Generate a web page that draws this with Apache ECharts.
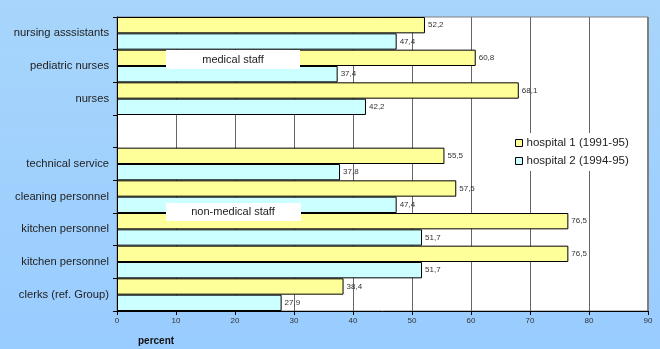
<!DOCTYPE html>
<html>
<head>
<meta charset="utf-8">
<script src="https://cdn.jsdelivr.net/npm/echarts@6/dist/echarts.min.js"></script>
<style>
  html, body { margin: 0; padding: 0; }
  #chart { width: 660px; height: 349px; }
</style>
</head>
<body>
<div id="chart"></div>
<script>
// Occupational groups, top to bottom; the empty entry separates the two staff blocks
const categories = [
  'nursing asssistants', 'pediatric nurses', 'nurses', '',
  'technical service', 'cleaning personnel', 'kitchen personnel',
  'kitchen personnel', 'clerks (ref. Group)'
];
const hospital1 = [52.2, 60.8, 68.1, null, 55.5, 57.5, 76.5, 76.5, 38.4];
const hospital2 = [47.4, 37.4, 42.2, null, 37.8, 47.4, 51.7, 51.7, 27.9];
const seriesNames = ['hospital 1 (1991-95)', 'hospital 2 (1994-95)'];
const xTicks = [0, 10, 20, 30, 40, 50, 60, 70, 80, 90];

const FONT = '"Liberation Sans", Arial, sans-serif';

const chart = echarts.init(document.getElementById('chart'), null, { renderer: 'canvas' });

const commaLabel = p => (p.value == null ? '' : String(p.value.toFixed(1)).replace('.', ','));

const barLabel = {
  show: true,
  position: 'right',
  distance: 3,
  fontFamily: FONT,
  fontSize: 8,
  color: '#333',
  formatter: commaLabel
};

chart.setOption({
  animation: false,
  backgroundColor: {
    type: 'linear', x: 0, y: 0, x2: 0, y2: 1,
    colorStops: [{ offset: 0, color: '#a7d5fb' }, { offset: 1, color: '#99ccff' }]
  },
  grid: {
    left: 117, right: 12, top: 17, bottom: 38,
    show: true, backgroundColor: '#ffffff', borderColor: '#808080', borderWidth: 1
  },
  legend: {
    orient: 'vertical',
    left: 510, top: 133,
    backgroundColor: '#ffffff',
    padding: [4, 6, 4, 5],
    itemWidth: 7, itemHeight: 7, itemGap: 6,
    icon: 'rect',
    itemStyle: { borderColor: '#000', borderWidth: 1 },
    textStyle: { fontFamily: FONT, fontSize: 11.5, color: '#222', padding: [0, 0, 0, -1] },
    data: seriesNames
  },
  xAxis: {
    type: 'value',
    min: xTicks[0], max: xTicks[xTicks.length - 1], interval: 10,
    axisLine: { show: true, lineStyle: { color: '#000', width: 1 } },
    axisTick: { show: true, length: 4, lineStyle: { color: '#000' } },
    axisLabel: { fontFamily: FONT, fontSize: 8, color: '#333', margin: 6 },
    splitLine: { show: true, lineStyle: { color: '#666', width: 1 } }
  },
  yAxis: {
    type: 'category',
    inverse: true,
    data: categories,
    axisLine: { show: true, lineStyle: { color: '#000', width: 1 } },
    axisTick: { show: true, length: 4, lineStyle: { color: '#000' } },
    axisLabel: { fontFamily: FONT, fontSize: 11.2, color: '#222', margin: 8 }
  },
  series: [
    {
      name: seriesNames[0], type: 'bar', data: hospital1,
      barGap: '0%', barCategoryGap: '0%',
      itemStyle: { color: '#ffff99', borderColor: '#000', borderWidth: 1 },
      label: barLabel
    },
    {
      name: seriesNames[1], type: 'bar', data: hospital2,
      barGap: '0%', barCategoryGap: '0%',
      itemStyle: { color: '#ccffff', borderColor: '#000', borderWidth: 1 },
      label: barLabel
    }
  ],
  graphic: [
    {
      type: 'group', left: 166, top: 50, z: 100,
      children: [
        { type: 'rect', z: 100, shape: { x: 0, y: 0, width: 134, height: 19 }, style: { fill: '#fff' } },
        { type: 'text', z: 101, x: 67, y: 10, style: { text: 'medical staff', fontFamily: FONT, fontSize: 11, fill: '#222', align: 'center', verticalAlign: 'middle' } }
      ]
    },
    {
      type: 'group', left: 166, top: 203, z: 100,
      children: [
        { type: 'rect', z: 100, shape: { x: 0, y: 0, width: 135, height: 18 }, style: { fill: '#fff' } },
        { type: 'text', z: 101, x: 67, y: 9, style: { text: 'non-medical staff', fontFamily: FONT, fontSize: 11, fill: '#222', align: 'center', verticalAlign: 'middle' } }
      ]
    },
    {
      // heavier right-hand frame of the plot area
      type: 'rect', z: 50, right: 11, top: 17,
      shape: { x: 0, y: 0, width: 2, height: 294 },
      style: { fill: '#808080' }
    },
    {
      type: 'text', left: 138, top: 336,
      style: { text: 'percent', fontFamily: FONT, fontSize: 10, fontWeight: 'bold', fill: '#111' }
    }
  ]
});
</script>
</body>
</html>
